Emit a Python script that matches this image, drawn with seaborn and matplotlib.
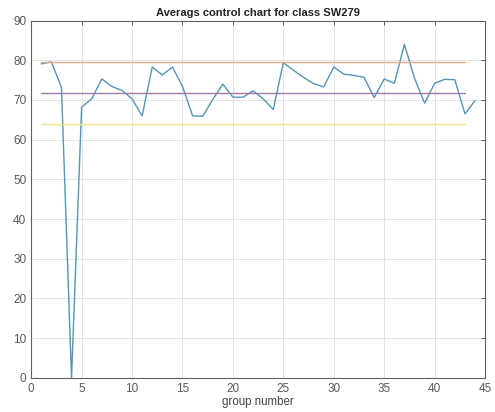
import matplotlib
matplotlib.use("Agg")
import matplotlib.pyplot as plt
import seaborn as sns
import pandas as pd
import numpy as np

group = list(range(1, 45))
averages = [79.1, 79.6, 73.2, 0.0, 68.2, 70.3, 75.3, 73.4, 72.4, 70.3,
            66.0, 78.3, 76.3, 78.3, 73.4, 66.0, 65.9, 70.1, 74.0, 70.7,
            70.7, 72.3, 70.3, 67.6, 79.4, 77.5, 75.7, 74.1, 73.3, 78.3,
            76.5, 76.2, 75.7, 70.6, 75.3, 74.2, 84.0, 75.5, 69.2, 74.2,
            75.2, 75.1, 66.5, 69.8]
limit_x = [1, 43]
ucl = 79.5
cl = 71.7
lcl = 64.0

sns.set_style("white")
plt.rcParams['font.family'] = ['Liberation Sans', 'DejaVu Sans']

fig = plt.figure(figsize=(4.95, 4.12), dpi=100)
ax = fig.add_axes([0.063, 0.083, 0.917, 0.867])

df = pd.DataFrame({"group": group, "avg": averages})
sns.lineplot(data=df, x="group", y="avg", ax=ax, color="#5496b5", linewidth=1.0)
for val, col in [(ucl, "#eaa98a"), (cl, "#a07aa8"), (lcl, "#f0e285")]:
    ldf = pd.DataFrame({"x": limit_x, "y": [val, val]})
    sns.lineplot(data=ldf, x="x", y="y", ax=ax, color=col, linewidth=1.0)

ax.set_xlim(0, 45)
ax.set_ylim(0, 90)
ax.set_xticks(range(0, 46, 5))
ax.set_yticks(range(0, 91, 10))
ax.grid(True, color="#e4e4e4", linewidth=0.7)
ax.set_axisbelow(True)
ax.tick_params(direction="in", top=True, right=True, length=3, labelsize=8.5,
               colors="#5a5a5a", width=0.7)
for s in ax.spines.values():
    s.set_color("#606060")
    s.set_linewidth(0.8)
ax.set_xlabel("group number", fontsize=8.3, color="#444444", labelpad=1)
ax.set_ylabel("")
ax.set_title("Averags control chart for class SW279", fontsize=8.0, fontweight="bold",
             color="#222222", pad=3)

fig.savefig("out.png", dpi=100)
